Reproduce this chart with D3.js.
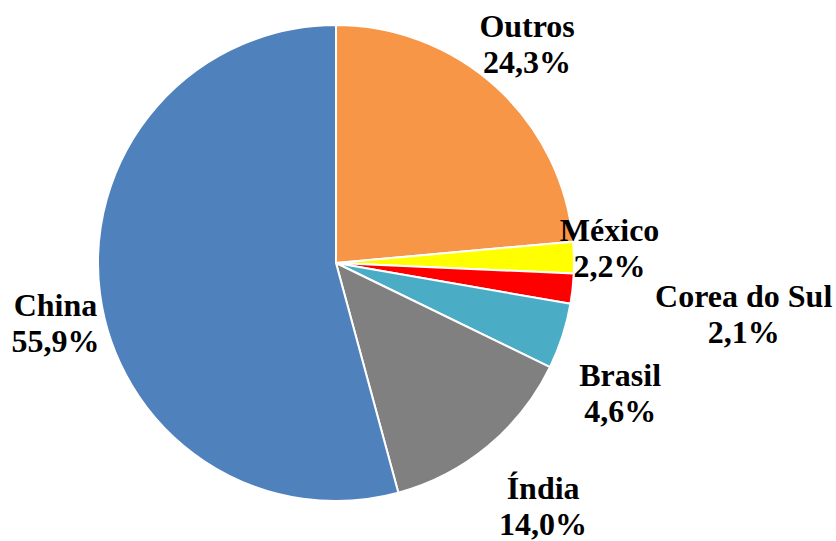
<!DOCTYPE html>
<html>
<head>
<meta charset="utf-8">
<script src="https://cdn.jsdelivr.net/npm/d3@7/dist/d3.min.js"></script>
<style>
  html, body { margin: 0; padding: 0; background: #fff; }
  svg { display: block; }
</style>
</head>
<body>
<svg id="chart" width="836" height="541"></svg>
<script>
// Share of production by country (%)
const countries = ["Outros", "México", "Corea do Sul", "Brasil", "Índia", "China"];
const shares = [24.3, 2.2, 2.1, 4.6, 14.0, 55.9];
const shareLabels = ["24,3%", "2,2%", "2,1%", "4,6%", "14,0%", "55,9%"];
const colors = ["#F79646", "#FFFF00", "#FF0000", "#4BACC6", "#808080", "#4F81BD"];

// Label placement: distance from centre and angular nudge (degrees) per slice
const labelRadius = [290, 274, 411, 313, 320, 287];
const labelNudge = [-1.2, -1.7, 1.1, 6.9, -0.7, -4.6];

const cx = 336, cy = 263, R = 238;
const fontSize = 32, lineGap = 36;

const svg = d3.select("#chart");
const g = svg.append("g").attr("transform", `translate(${cx},${cy})`);

const data = countries.map((c, i) => ({ name: c, value: shares[i], label: shareLabels[i], i }));

const pie = d3.pie().sort(null).value(d => d.value);
const arc = d3.arc().innerRadius(0).outerRadius(R);
const arcs = pie(data);

g.selectAll("path.slice")
  .data(arcs)
  .join("path")
  .attr("class", "slice")
  .attr("d", arc)
  .attr("fill", d => colors[d.data.i])
  .attr("stroke", "#fff")
  .attr("stroke-width", 2)
  .attr("stroke-linejoin", "round");

const labels = g.selectAll("text.lbl")
  .data(arcs)
  .join("text")
  .attr("class", "lbl")
  .attr("text-anchor", "middle")
  .attr("font-family", "'Liberation Serif'")
  .attr("font-weight", "bold")
  .attr("font-size", fontSize)
  .attr("fill", "#000");

labels.each(function (d) {
  const k = d.data.i;
  const mid = (d.startAngle + d.endAngle) / 2 + labelNudge[k] * Math.PI / 180;
  const r = labelRadius[k];
  const x = r * Math.sin(mid);
  const y = -r * Math.cos(mid);
  const t = d3.select(this);
  t.append("tspan").attr("x", x).attr("y", y - 8).text(d.data.name);
  t.append("tspan").attr("x", x).attr("y", y - 8 + lineGap).text(d.data.label);
});
</script>
</body>
</html>
